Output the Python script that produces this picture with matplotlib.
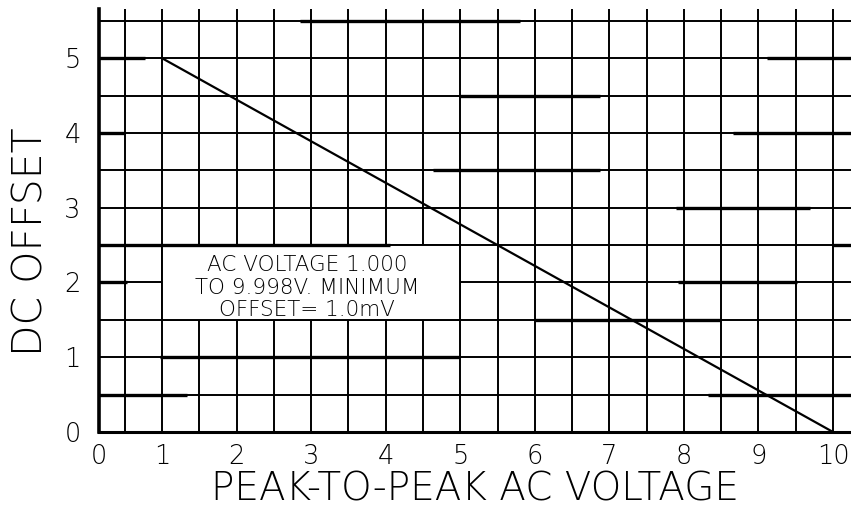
import matplotlib
matplotlib.use('Agg')
import matplotlib.pyplot as plt
from matplotlib.patches import Rectangle

# Data
line_x = [1, 10]
line_y = [5, 0]

x_tick_pos = [0.16, 1, 2, 3, 4, 5, 6, 7, 8, 9, 10]
x_tick_labels = ['0', '1', '2', '3', '4', '5', '6', '7', '8', '9', '10']
y_ticks = [0, 1, 2, 3, 4, 5]
x_minor = [0.5, 1.5, 2.5, 3.5, 4.5, 5.5, 6.5, 7.5, 8.5, 9.5]
y_minor = [0.5, 1.5, 2.5, 3.5, 4.5, 5.5]

# heavier (over-inked) grid segments in the scan: y, x start, x end
heavy_y = [5.5, 5.0, 5.0, 4.5, 4.0, 4.0, 3.5, 3.0, 2.5, 2.5, 2.0, 2.0, 1.5, 1.0, 0.5, 0.5]
heavy_x0 = [2.85, 0.16, 9.11, 5.0, 0.16, 8.66, 4.63, 7.9, 0.16, 10.0, 0.16, 7.92, 6.0, 0.97, 0.16, 8.32]
heavy_x1 = [5.8, 0.77, 10.24, 6.87, 0.5, 10.24, 6.87, 9.69, 4.06, 10.24, 0.53, 9.52, 8.48, 5.0, 1.34, 10.24]

note = 'AC VOLTAGE 1.000\nTO 9.998V. MINIMUM\nOFFSET= 1.0mV'

plt.rcParams['font.family'] = ['DejaVu Sans']

fig = plt.figure(figsize=(8.51, 5.11), dpi=100)
ax = fig.add_axes([0.1163, 0.1546, 1 - 0.1163, 0.982 - 0.1546])

ax.set_xlim(0.155, 10.241)
ax.set_ylim(0, 5.655)

ax.set_xticks(x_tick_pos)
ax.set_xticklabels(x_tick_labels)
ax.set_xticks(x_minor, minor=True)
ax.set_yticks(y_ticks)
ax.set_yticklabels([str(v) for v in y_ticks])
ax.set_yticks(y_minor, minor=True)

ax.grid(True, which='both', color='black', linewidth=1.4)
ax.set_axisbelow(True)

for y, a, b in zip(heavy_y, heavy_x0, heavy_x1):
    ax.plot([a, b], [y, y], color='black', linewidth=2.4, solid_capstyle='butt', zorder=2.5)

# blanked cell block holding the note
ax.add_patch(Rectangle((1, 1.5), 4, 1, facecolor='white', edgecolor='black',
                       linewidth=1.4, zorder=1.5))
ax.text(2.95, 1.93, note, ha='center', va='center', fontsize=15.5,
        fontweight='light', linespacing=1.15, zorder=3)

ax.plot(line_x, line_y, color='black', linewidth=1.6, zorder=3)

for s in ['top', 'right']:
    ax.spines[s].set_visible(False)
ax.spines['left'].set_linewidth(2.6)
ax.spines['bottom'].set_linewidth(2.2)

ax.tick_params(which='both', length=0)
ax.tick_params(axis='x', pad=9, labelsize=18.5)
ax.tick_params(axis='y', pad=13, labelsize=18.5)
for lab in ax.get_xticklabels() + ax.get_yticklabels():
    lab.set_fontweight('light')

ax.set_xlabel('PEAK-TO-PEAK AC VOLTAGE', fontsize=28, fontweight='light')
ax.set_ylabel('DC OFFSET', fontsize=29.5, fontweight='light')
ax.xaxis.set_label_coords(0.5, -0.092)
ax.yaxis.set_label_coords(-0.064, 0.45)

fig.savefig('out.png', dpi=100)
